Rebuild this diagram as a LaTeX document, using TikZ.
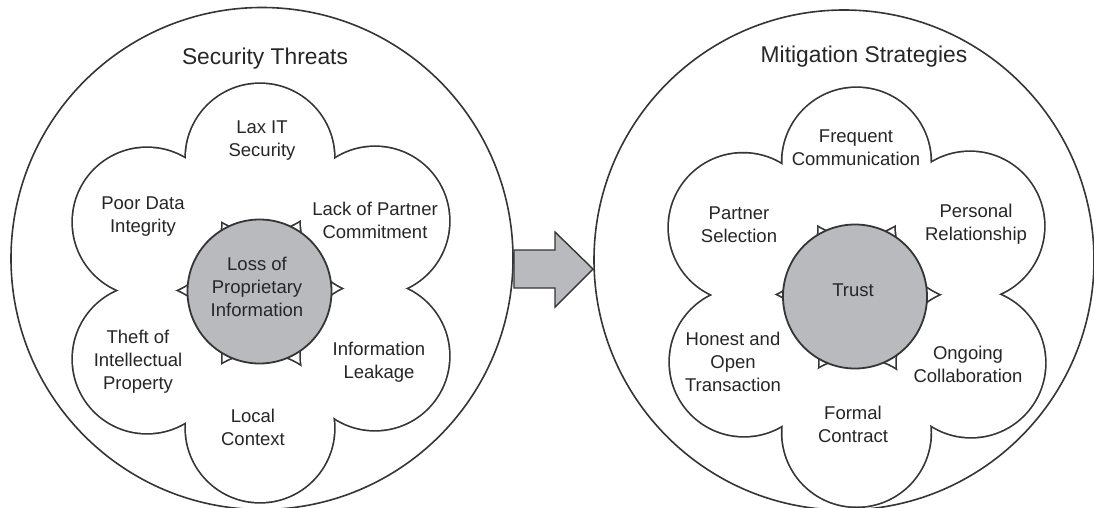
\documentclass[tikz,border=0pt]{standalone}
\usepackage{fontspec}
\setmainfont{Liberation Sans}
\definecolor{linec}{HTML}{353535}
\definecolor{grayfill}{HTML}{B9BABD}
\tikzset{
  bigc/.style={circle,draw=linec,line width=1.6pt,fill=white,minimum size=#1,inner sep=0pt},
  satline/.style={circle,draw=linec,line width=3.4pt,minimum size=148pt,inner sep=0pt},
  satfill/.style={circle,fill=white,minimum size=148pt,inner sep=0pt},
  hubc/.style={circle,draw=linec,line width=1.8pt,fill=grayfill,minimum size=144pt,inner sep=0pt},
  lbl/.style={align=center,text=black!85,font=\fontsize{18.5}{23}\selectfont,inner sep=0pt},
  ttl/.style={text=black!85,font=\fontsize{22.8}{26}\selectfont,inner sep=0pt},
  arrowshape/.style={draw=linec,line width=1.4pt,fill=grayfill,line join=miter}
}
\begin{document}
\begin{tikzpicture}[x=1pt,y=-1pt]
\useasboundingbox (0,0) rectangle (1094,508);
\fill[white] (0,0) rectangle (1094,508);
\clip (0,0) rectangle (1094,508);
% big circles
\node[bigc=502pt] (L) at (262,258.5) {};
\node[bigc=500pt] (R) at (844,260) {};
% arrow
\draw[arrowshape] (514,250) -- (555,250) -- (555,232) -- (593,269) -- (555,307) -- (555,288) -- (514,288) -- cycle;
% left satellites: outlines, then fills (only the outer boundary of the union stays visible)
\node[satline] (lax) at (260,158) {};
\node[satline] (poor) at (147,222) {};
\node[satline] (lack) at (375,221) {};
\node[satline] (theft) at (147,359) {};
\node[satline] (leak) at (375,356) {};
\node[satline] (local) at (260,428) {};
\node[satfill] (laxf) at (lax) {};
\node[satfill] (poorf) at (poor) {};
\node[satfill] (lackf) at (lack) {};
\node[satfill] (theftf) at (theft) {};
\node[satfill] (leakf) at (leak) {};
\node[satfill] (localf) at (local) {};
\node[hubc] (loss) at (259.5,291.5) {};
% right satellites
\node[satline] (freq) at (856.5,162) {};
\node[satline] (partner) at (743,227.5) {};
\node[satline] (personal) at (970,226) {};
\node[satline] (honest) at (744,362) {};
\node[satline] (ongoing) at (971,363) {};
\node[satline] (formal) at (856.5,432.5) {};
\node[satfill] (freqf) at (freq) {};
\node[satfill] (partnerf) at (partner) {};
\node[satfill] (personalf) at (personal) {};
\node[satfill] (honestf) at (honest) {};
\node[satfill] (ongoingf) at (ongoing) {};
\node[satfill] (formalf) at (formal) {};
\node[hubc] (trust) at (855,296.5) {};
% titles
\node[ttl] (t1) at (265,58.3) {Security Threats};
\node[ttl] (t2) at (864,56.3) {Mitigation Strategies};
% left labels
\node[lbl] (laxt) at (262,140.4) {Lax IT\\Security};
\node[lbl] (poort) at (143,216.8) {Poor Data\\Integrity};
\node[lbl] (lackt) at (375,220.6) {Lack of Partner\\Commitment};
\node[lbl] (losst) at (257,286.5) {Loss of\\Proprietary\\Information};
\node[lbl] (theftt) at (138,362) {Theft of\\Intellectual\\Property};
\node[lbl] (leakt) at (379,362) {Information\\Leakage};
\node[lbl] (localt) at (253,427.8) {Local\\Context};
% right labels
\node[lbl] (freqt) at (856,148) {Frequent\\Communication};
\node[lbl] (partnert) at (739,224.4) {Partner\\Selection};
\node[lbl] (personalt) at (976,224.4) {Personal\\Relationship};
\node[lbl] (trustt) at (853,290.3) {Trust};
\node[lbl] (honestt) at (733,362) {Honest and\\Open\\Transaction};
\node[lbl] (ongoingt) at (968,364.8) {Ongoing\\Collaboration};
\node[lbl] (formalt) at (853,424) {Formal\\Contract};
\end{tikzpicture}
\end{document}
